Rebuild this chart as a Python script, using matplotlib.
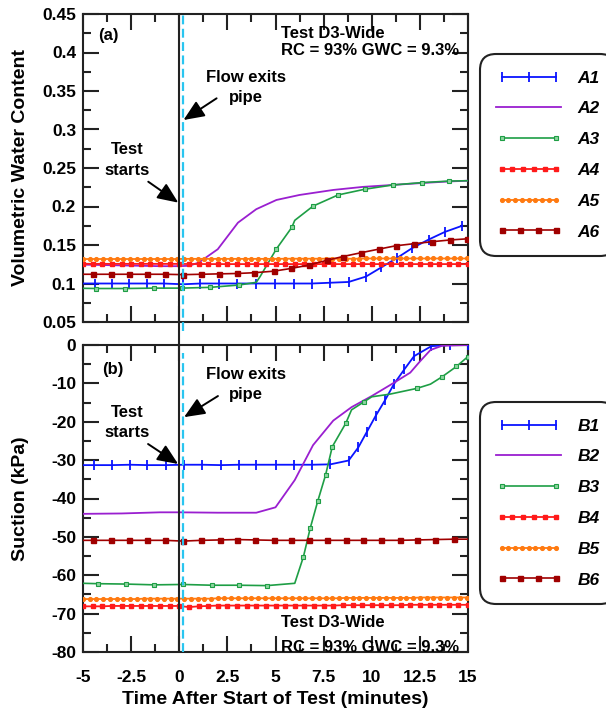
import matplotlib
matplotlib.use("Agg")
import matplotlib.pyplot as plt
from matplotlib.ticker import MultipleLocator, FuncFormatter
from matplotlib.legend_handler import HandlerLine2D

plt.rcParams['font.family'] = ['Liberation Sans', 'DejaVu Sans']
plt.rcParams['font.weight'] = 'bold'
plt.rcParams['axes.unicode_minus'] = False

# ---------------- data: panel (a) volumetric water content ----------------
A1_t = [-5.3, -4.4, -3.5, -2.6, -1.7, -0.8, 0.2, 1.1, 2.05, 3.0, 4.0, 4.95, 5.95, 6.9, 7.85, 8.8,
        9.7, 10.5, 11.3, 12.1, 12.95, 13.8, 14.7]
A1_v = [0.100, 0.100, 0.100, 0.100, 0.100, 0.100, 0.099, 0.100, 0.100, 0.100, 0.100, 0.100, 0.100,
        0.100, 0.101, 0.102, 0.109, 0.121, 0.133, 0.146, 0.157, 0.167, 0.175]

A2_t = [-5.0, -4.0, -3.0, -2.0, -1.0, 0.0, 0.5, 1.0, 2.0, 3.05, 4.0, 5.05, 6.25, 8.0, 9.55, 11.1,
        12.6, 14.0, 15.0]
A2_v = [0.1245, 0.124, 0.1235, 0.123, 0.1225, 0.1225, 0.123, 0.127, 0.1445, 0.179, 0.1965, 0.2085,
        0.215, 0.2215, 0.2255, 0.228, 0.2305, 0.2325, 0.2335]

A3_t = [-5.7, -4.3, -2.8, -1.3, 0.15, 1.6, 3.1, 4.0, 4.2, 5.05, 5.85, 6.0, 6.95, 8.25, 9.65, 11.1,
        12.6, 14.0, 15.0]
A3_v = [0.094, 0.0935, 0.0935, 0.094, 0.094, 0.095, 0.098, 0.1015, 0.109, 0.145, 0.173, 0.182,
        0.2005, 0.215, 0.2225, 0.228, 0.231, 0.233, 0.2335]

A4_t = [-5.0, -4.5, -4.0, -3.5, -3.0, -2.5, -2.0, -1.5, -1.0, -0.5, 0.0, 0.5, 1.0, 1.5, 2.0, 2.5,
        3.0, 3.5, 4.0, 4.5, 5.0, 5.5, 6.0, 6.5, 7.0, 7.5, 8.0, 8.5, 9.0, 9.5, 10.0, 10.5, 11.0,
        11.5, 12.0, 12.5, 13.0, 13.5, 14.0, 14.5, 15.0]
A4_v = [0.1255, 0.1255, 0.1255, 0.1255, 0.1255, 0.1255, 0.1255, 0.1255, 0.1255, 0.1255, 0.1255,
        0.1253, 0.1253, 0.1252, 0.1252, 0.1252, 0.1252, 0.1252, 0.1252, 0.1252, 0.1252, 0.1252,
        0.1252, 0.1252, 0.1252, 0.1252, 0.1252, 0.1252, 0.1252, 0.1252, 0.1252, 0.1252, 0.1252,
        0.1252, 0.1252, 0.1252, 0.1252, 0.1252, 0.1252, 0.1252, 0.1252]

A5_t = [-5.0, -4.65, -4.3, -3.95, -3.6, -3.25, -2.9, -2.55, -2.2, -1.85, -1.5, -1.15, -0.8, -0.45,
        -0.1, 0.25, 0.6, 0.95, 1.3, 1.65, 2.0, 2.35, 2.7, 3.05, 3.4, 3.75, 4.1, 4.45, 4.8, 5.15,
        5.5, 5.85, 6.2, 6.55, 6.9, 7.25, 7.6, 7.95, 8.3, 8.65, 9.0, 9.35, 9.7, 10.05, 10.4, 10.75,
        11.1, 11.45, 11.8, 12.15, 12.5, 12.85, 13.2, 13.55, 13.9, 14.25, 14.6, 14.95]
A5_v = [0.1318, 0.1318, 0.1318, 0.1318, 0.1318, 0.1318, 0.1318, 0.1318, 0.1318, 0.1318, 0.1318,
        0.1318, 0.1318, 0.1318, 0.1318, 0.132, 0.132, 0.132, 0.132, 0.132, 0.132, 0.132, 0.132,
        0.132, 0.132, 0.132, 0.132, 0.132, 0.132, 0.132, 0.1322, 0.1322, 0.1322, 0.1322, 0.1322,
        0.1322, 0.1322, 0.1322, 0.1322, 0.1322, 0.1322, 0.1322, 0.1325, 0.1325, 0.1325, 0.1325,
        0.1325, 0.1325, 0.1325, 0.1325, 0.1325, 0.1325, 0.1325, 0.1325, 0.1325, 0.1325, 0.1325,
        0.1325]

A6_t = [-5.4, -4.5, -3.55, -2.6, -1.7, -0.75, 0.2, 1.15, 2.05, 3.0, 3.9, 4.9, 5.8, 6.75, 7.65,
        8.5, 9.45, 10.4, 11.25, 12.2, 13.15, 14.05, 14.95]
A6_v = [0.112, 0.112, 0.112, 0.112, 0.112, 0.112, 0.1115, 0.112, 0.1125, 0.113, 0.114, 0.116,
        0.1195, 0.124, 0.130, 0.135, 0.140, 0.1448, 0.149, 0.1517, 0.1543, 0.1565, 0.158]

# ---------------- data: panel (b) suction ----------------
B1_t = [-5.4, -4.45, -3.5, -2.55, -1.65, -0.7, 0.25, 1.2, 2.15, 3.1, 4.0, 5.0, 5.95, 6.9, 7.85,
        8.8, 9.3, 9.75, 10.2, 10.7, 11.15, 11.7, 12.2, 13.1, 14.05, 15.0]
B1_v = [-31.3, -31.3, -31.3, -31.2, -31.3, -31.3, -31.2, -31.2, -31.3, -31.2, -31.2, -31.2, -31.2,
        -31.2, -31.1, -30.1, -26.7, -22.6, -18.5, -14.3, -10.2, -6.3, -2.9, -0.3, 0.0, 0.0]

B2_t = [-5.0, -3.0, -1.0, 0.0, 2.0, 4.0, 5.0, 6.0, 6.95, 8.0, 8.95, 10.0, 11.1, 12.0, 12.5, 13.05,
        13.65, 15.0]
B2_v = [-44.0, -43.9, -43.6, -43.6, -43.7, -43.7, -42.3, -35.2, -26.1, -19.7, -16.2, -13.3, -10.0,
        -7.2, -4.3, -1.3, -0.2, 0.0]

B3_t = [-5.0, -4.2, -2.75, -1.3, 0.2, 1.7, 3.1, 4.55, 6.0, 6.45, 6.8, 7.2, 7.6, 7.95, 8.65, 8.95,
        9.6, 10.0, 10.95, 12.35, 13.05, 13.65, 14.4, 15.0]
B3_v = [-62.1, -62.2, -62.3, -62.5, -62.4, -62.6, -62.6, -62.7, -62.1, -55.2, -47.8, -40.6, -33.9,
        -26.5, -20.4, -16.9, -14.8, -13.5, -12.8, -11.3, -10.2, -8.3, -5.6, -3.0]

B4_t = A4_t
B4_v = [-68.1, -68.1, -68.1, -68.0, -68.0, -68.0, -68.0, -68.0, -68.0, -68.0, -68.0, -68.3, -68.1,
        -68.0, -67.9, -67.9, -67.9, -67.9, -67.9, -67.9, -67.9, -67.9, -67.9, -67.9, -67.9, -67.9,
        -67.9, -67.8, -67.8, -67.8, -67.8, -67.8, -67.8, -67.8, -67.7, -67.7, -67.7, -67.7, -67.7,
        -67.7, -67.7]

B5_t = A5_t
B5_v = [-66.2, -66.2, -66.2, -66.2, -66.2, -66.2, -66.2, -66.2, -66.2, -66.1, -66.1, -66.1, -66.1,
        -66.1, -66.1, -66.1, -66.1, -66.1, -66.1, -66.1, -66.0, -66.0, -66.0, -66.0, -66.0, -66.0,
        -66.0, -66.0, -66.0, -66.0, -66.0, -66.0, -66.0, -66.0, -66.0, -66.0, -66.0, -66.0, -66.0,
        -65.9, -65.9, -65.9, -65.9, -65.9, -65.9, -65.9, -65.9, -65.9, -65.9, -65.9, -65.8, -65.8,
        -65.8, -65.8, -65.8, -65.8, -65.8, -65.8]

B6_t = [-5.4, -4.5, -3.55, -2.6, -1.65, -0.75, 0.2, 1.15, 2.1, 3.0, 3.95, 4.9, 5.8, 6.75, 7.7,
        8.65, 9.55, 10.5, 11.45, 12.35, 13.3, 14.25, 15.2]
B6_v = [-50.9, -50.9, -50.9, -50.9, -50.9, -50.9, -51.1, -50.9, -50.8, -50.7, -50.8, -50.9, -50.9,
        -50.9, -50.9, -50.9, -50.9, -50.9, -50.9, -50.8, -50.7, -50.6, -50.6]

labels_a = ['A1', 'A2', 'A3', 'A4', 'A5', 'A6']
labels_b = ['B1', 'B2', 'B3', 'B4', 'B5', 'B6']

x_ticks = [-5, -2.5, 0, 2.5, 5, 7.5, 10, 12.5, 15]
start_time = 0.0
flow_exit_time = 0.2

# ---------------- styles ----------------
C_BLUE = '#0a14ff'
C_PURP = '#9a1fd0'
C_GREEN = '#1e9e45'
C_RED = '#ff1a1a'
C_ORNG = '#ff7a10'
C_DRED = '#a00000'

styles = [
    dict(color=C_BLUE, marker='|', ms=7, mew=1.3, lw=1.3),
    dict(color=C_PURP, lw=1.3),
    dict(color=C_GREEN, marker='s', ms=3.1, mfc='#8fd4a0', mec=C_GREEN, mew=0.8, lw=1.2),
    dict(color=C_RED, marker='s', ms=2.7, lw=1.3),
    dict(color=C_ORNG, marker='o', ms=2.7, lw=1.3),
    dict(color=C_DRED, marker='s', ms=3.6, lw=1.2),
]
npts = [3, 1, 2, 6, 9, 4]

fig = plt.figure(figsize=(6.06, 7.08), dpi=100)
W, H = 606.0, 708.0
ax1 = fig.add_axes([83 / W, 1 - 322 / H, 385 / W, 308 / H])
ax2 = fig.add_axes([83 / W, 1 - 652 / H, 385 / W, 307 / H])

SPINE = '#222222'


def style_axes(ax, ylim, ymaj, ymin, show_x):
    ax.set_xlim(-5, 15)
    ax.set_ylim(*ylim)
    ax.set_xticks(x_ticks)
    ax.xaxis.set_minor_locator(MultipleLocator(1.25))
    ax.yaxis.set_major_locator(MultipleLocator(ymaj))
    ax.yaxis.set_minor_locator(MultipleLocator(ymin))
    ax.tick_params(which='both', direction='in', top=True, right=True, width=1.5,
                   color=SPINE, labelsize=12.5)
    ax.tick_params(axis='y', which='both', pad=5)
    ax.tick_params(axis='x', which='both', pad=13)
    ax.tick_params(which='major', length=11.5)
    ax.tick_params(which='minor', length=6)
    fmt = FuncFormatter(lambda v, p: f"{round(v, 4):g}")
    ax.yaxis.set_major_formatter(fmt)
    ax.xaxis.set_major_formatter(fmt)
    if not show_x:
        ax.tick_params(labelbottom=False)
    for s in ax.spines.values():
        s.set_linewidth(1.5)
        s.set_color(SPINE)


style_axes(ax1, (0.05, 0.45), 0.05, 0.025, False)
style_axes(ax2, (-80, 0), 10, 5, True)

mark_a3 = [1, 2, 3, 4, 5, 6, 9, 10, 12, 13, 14, 15, 16, 17]
mark_b3 = [1, 2, 3, 4, 5, 6, 7, 9, 10, 11, 12, 13, 14, 16, 19, 21, 22, 23]

series_a = [(A1_t, A1_v), (A2_t, A2_v), (A3_t, A3_v), (A4_t, A4_v), (A5_t, A5_v), (A6_t, A6_v)]
series_b = [(B1_t, B1_v), (B2_t, B2_v), (B3_t, B3_v), (B4_t, B4_v), (B5_t, B5_v), (B6_t, B6_v)]

lines_a, lines_b = [], []
for i, ((t, v), st) in enumerate(zip(series_a, styles)):
    kw = dict(st)
    if i == 2:
        kw['markevery'] = mark_a3
    ln, = ax1.plot(t, v, label=labels_a[i], zorder=3, **kw)
    lines_a.append(ln)
for i, ((t, v), st) in enumerate(zip(series_b, styles)):
    kw = dict(st)
    if i == 2:
        kw['markevery'] = mark_b3
    ln, = ax2.plot(t, v, label=labels_b[i], zorder=3, **kw)
    lines_b.append(ln)

# vertical reference lines (continuous across the two panels)
ax1.axvline(start_time, ymin=-0.075, ymax=1, clip_on=False, color=SPINE, lw=1.5, zorder=5)
ax2.axvline(start_time, color=SPINE, lw=1.5, zorder=5)
ax1.axvline(flow_exit_time, ymin=-0.028, ymax=1, clip_on=False, color='#29c5f0', lw=1.6,
            ls=(0, (4, 2)), zorder=6)
ax2.axvline(flow_exit_time, ymin=0, ymax=0.975, color='#29c5f0', lw=1.6,
            ls=(0, (4, 2)), zorder=6)

# labels
ax1.set_ylabel('Volumetric Water Content', fontsize=14, fontweight='bold')
ax2.set_ylabel('Suction (kPa)', fontsize=14, fontweight='bold')
ax1.yaxis.set_label_coords(-0.14, 0.5)
ax2.yaxis.set_label_coords(-0.14, 0.5)
ax2.set_xlabel('Time After Start of Test (minutes)', fontsize=14, fontweight='bold')
ax2.xaxis.set_label_coords(0.5, -0.128)

TXT = dict(fontsize=12, fontweight='bold', color='black')
arrow = dict(arrowstyle='-|>,head_length=0.7,head_width=0.3', color='black', lw=1.4,
             shrinkA=0, shrinkB=0, mutation_scale=18)

# panel (a) annotations
ax1.text(-4.22, 0.4227, '(a)', ha='left', va='center', **TXT)
ax1.text(5.29, 0.425, 'Test D3-Wide', ha='left', va='center', **TXT)
ax1.text(5.29, 0.403, 'RC = 93% GWC = 9.3%', ha='left', va='center', **TXT)
ax1.text(3.47, 0.367, 'Flow exits', ha='center', va='center', **TXT)
ax1.text(3.47, 0.342, 'pipe', ha='center', va='center', **TXT)
ax1.text(-2.72, 0.2734, 'Test', ha='center', va='center', **TXT)
ax1.text(-2.72, 0.2474, 'starts', ha='center', va='center', **TXT)
ax1.annotate('', xy=(0.22, 0.3123), xytext=(1.94, 0.3405), arrowprops=arrow, zorder=7)
ax1.annotate('', xy=(-0.05, 0.205), xytext=(-1.61, 0.2322), arrowprops=arrow, zorder=7)

# panel (b) annotations
ax2.text(-4.03, -6.5, '(b)', ha='left', va='center', **TXT)
ax2.text(3.47, -7.8, 'Flow exits', ha='center', va='center', **TXT)
ax2.text(3.47, -13.0, 'pipe', ha='center', va='center', **TXT)
ax2.text(-2.71, -17.7, 'Test', ha='center', va='center', **TXT)
ax2.text(-2.71, -22.7, 'starts', ha='center', va='center', **TXT)
ax2.text(5.29, -72.4, 'Test D3-Wide', ha='left', va='center', **TXT)
ax2.text(5.29, -78.7, 'RC = 93% GWC = 9.3%', ha='left', va='center', **TXT)
ax2.annotate('', xy=(0.25, -18.8), xytext=(2.01, -13.3), arrowprops=arrow, zorder=7)
ax2.annotate('', xy=(-0.06, -31.0), xytext=(-1.62, -25.8), arrowprops=arrow, zorder=7)


def make_legend(ax, lines, labels, top_px):
    hm = {ln: HandlerLine2D(numpoints=n) for ln, n in zip(lines, npts)}
    leg = ax.legend(lines, labels, loc='upper left',
                    bbox_to_anchor=(480 / W, 1 - top_px / H), bbox_transform=fig.transFigure,
                    borderaxespad=0,
                    handlelength=3.7, handletextpad=0.95, borderpad=0.95, labelspacing=0.9,
                    prop=dict(family=['Liberation Sans', 'DejaVu Sans'], weight='bold',
                              style='italic', size=12.5),
                    frameon=True, fancybox=True, framealpha=1, handler_map=hm)
    fr = leg.get_frame()
    fr.set_edgecolor(SPINE)
    fr.set_linewidth(1.5)
    fr.set_boxstyle('round,pad=0,rounding_size=0.9')
    return leg


make_legend(ax1, lines_a, labels_a, 54)
make_legend(ax2, lines_b, labels_b, 402)

fig.savefig('out.png', dpi=100)
